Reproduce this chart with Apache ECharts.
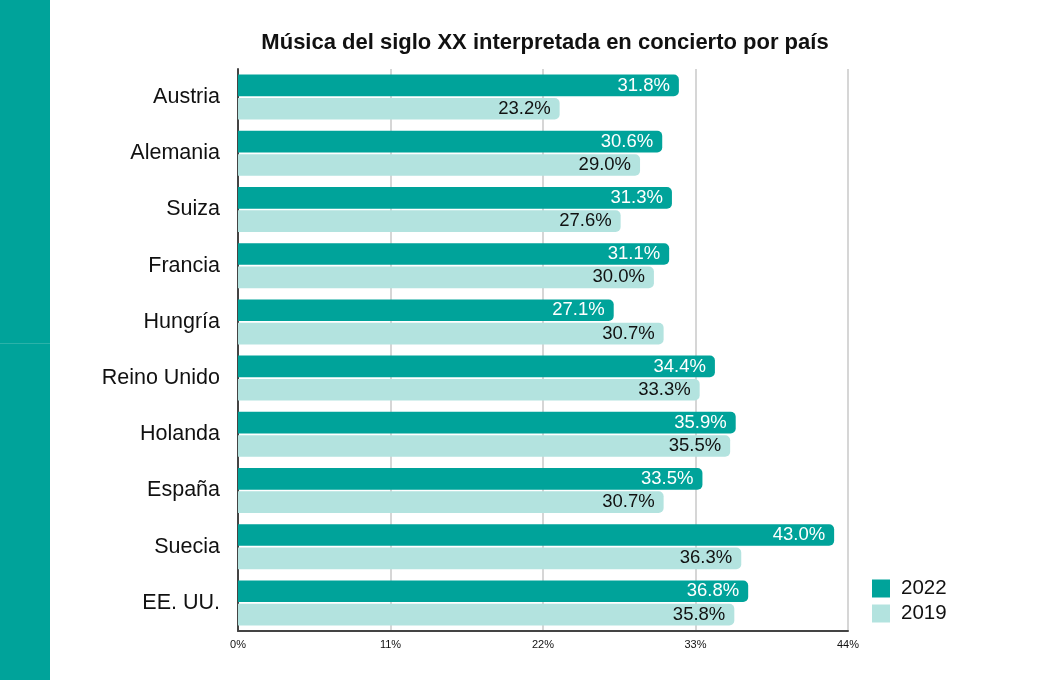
<!DOCTYPE html>
<html>
<head>
<meta charset="utf-8">
<script src="https://cdn.jsdelivr.net/npm/echarts@6/dist/echarts.min.js"></script>
<style>
  html, body { margin: 0; padding: 0; background: #fff; }
  #chart { width: 1040px; height: 680px; }
</style>
</head>
<body>
<div id="chart"></div>
<script>
// datos
var paises = ["Austria", "Alemania", "Suiza", "Francia", "Hungría", "Reino Unido", "Holanda", "España", "Suecia", "EE. UU."];
var valores2022 = [31.8, 30.6, 31.3, 31.1, 27.1, 34.4, 35.9, 33.5, 43.0, 36.8];
var valores2019 = [23.2, 29.0, 27.6, 30.0, 30.7, 33.3, 35.5, 30.7, 36.3, 35.8];
var ticksX = [0, 11, 22, 33, 44];

var verde = "#00a39a";
var verdeClaro = "#b3e3df";
var fuente = "Liberation Sans, Arial, Helvetica, sans-serif";

var myChart = echarts.init(document.getElementById("chart"), null, { renderer: "canvas" });

var option = {
  backgroundColor: "#fff",
  animation: false,
  textStyle: { fontFamily: fuente },
  title: {
    text: "Música del siglo XX interpretada en concierto por país",
    left: 540,
    textAlign: "center",
    top: 27,
    textStyle: { fontSize: 22, fontWeight: "bold", color: "#111", fontFamily: fuente }
  },
  graphic: [
    { type: "rect", shape: { x: 0, y: 0, width: 50, height: 680 }, style: { fill: verde }, silent: true },
    { type: "rect", shape: { x: 0, y: 343, width: 50, height: 1 }, style: { fill: "#2bb2a9" }, silent: true }
  ],
  legend: {
    orient: "vertical",
    left: 867,
    top: 573,
    itemWidth: 18,
    itemHeight: 18,
    itemGap: 4,
    icon: "rect",
    textStyle: { fontSize: 20.5, color: "#111", fontFamily: fuente, padding: [0, 0, 0, 6] },
    data: ["2022", "2019"]
  },
  grid: { left: 238, right: 192, top: 69, bottom: 49, containLabel: false },
  xAxis: {
    type: "value",
    min: ticksX[0],
    max: ticksX[ticksX.length - 1],
    interval: 11,
    axisLine: { show: true, lineStyle: { color: "#444", width: 2 } },
    axisTick: { show: false },
    axisLabel: { formatter: "{value}%", fontSize: 11, color: "#111", margin: 8 },
    splitLine: { show: true, lineStyle: { color: "#c8c8c8", width: 1.5 } }
  },
  yAxis: {
    type: "category",
    inverse: true,
    data: paises,
    axisLine: { show: true, lineStyle: { color: "#444", width: 2 } },
    axisTick: { show: false },
    axisLabel: { fontSize: 21.5, color: "#111", margin: 18, padding: [7, 0, 0, 0] }
  },
  series: [
    {
      name: "2022",
      type: "bar",
      data: valores2022,
      barGap: "8%",
      barCategoryGap: "20%",
      itemStyle: { color: verde, borderRadius: [0, 5, 5, 0] },
      label: {
        show: true,
        position: "insideRight",
        distance: 9,
        color: "#fff",
        fontSize: 18.5,
        padding: [3, 0, 0, 0],
        formatter: function (p) { return p.value.toFixed(1) + "%"; }
      }
    },
    {
      name: "2019",
      type: "bar",
      data: valores2019,
      itemStyle: { color: verdeClaro, borderRadius: [0, 5, 5, 0] },
      label: {
        show: true,
        position: "insideRight",
        distance: 9,
        color: "#111",
        fontSize: 18.5,
        padding: [2, 0, 0, 0],
        formatter: function (p) { return p.value.toFixed(1) + "%"; }
      }
    }
  ]
};

myChart.setOption(option);
</script>
</body>
</html>
